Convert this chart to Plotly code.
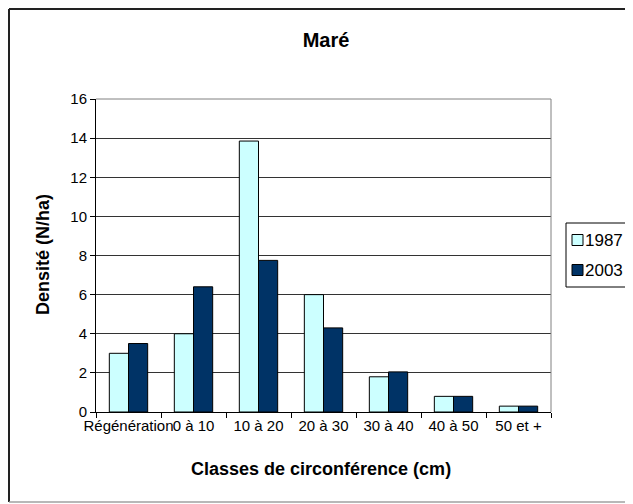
import plotly.graph_objects as go

categories = ["Régénération", "0 à 10", "10 à 20", "20 à 30", "30 à 40", "40 à 50", "50 et +"]
values_1987 = [3.0, 4.0, 13.85, 6.0, 1.8, 0.8, 0.3]
values_2003 = [3.5, 6.4, 7.75, 4.3, 2.05, 0.8, 0.3]
y_ticks = [0, 2, 4, 6, 8, 10, 12, 14, 16]
series_names = ["1987", "2003"]
series_colors = ["#CCFFFF", "#003366"]

# page body has an 8px margin: figure origin sits at screen (8, 8)
OFF = 8
W, H = 633 - OFF, 504 - OFF
# plot area in screen coordinates
SX0, SX1, SY0, SY1 = 96, 551, 99, 412
L, R, T, B = SX0 - OFF, (633 - OFF) - (SX1 - OFF), SY0 - OFF, (504 - OFF) - (SY1 - OFF)
pw, ph = SX1 - SX0, SY1 - SY0


def px_x(x):
    return (x - SX0) / pw


def px_y(y):
    return (SY1 - y) / ph


font = "Liberation Sans, Arial, sans-serif"

fig = go.Figure()
fig.add_trace(go.Bar(x=categories, y=values_1987, name=series_names[0], showlegend=False,
                     marker=dict(color=series_colors[0], line=dict(color="#000000", width=1))))
fig.add_trace(go.Bar(x=categories, y=values_2003, name=series_names[1], showlegend=False,
                     marker=dict(color=series_colors[1], line=dict(color="#000000", width=1))))

fig.update_layout(
    width=W, height=H,
    margin=dict(l=L, r=R, t=T, b=B, autoexpand=False),
    paper_bgcolor="white", plot_bgcolor="white",
    barmode="group", bargap=0.41, bargroupgap=0,
    font=dict(family=font, size=15, color="#000000"),
    title=dict(text="<b>Maré</b>", x=(326 - OFF) / W, xanchor="center",
               y=1 - (40 - OFF) / H, yanchor="middle", yref="container",
               font=dict(family=font, size=20, color="#000000")),
)
fig.update_xaxes(type="category", showline=True, linecolor="#000000", linewidth=1,
                 ticks="outside", tickson="boundaries", ticklen=5, tickcolor="#000000",
                 tickangle=0, tickfont=dict(family=font, size=15),
                 showgrid=False, zeroline=False)
fig.update_yaxes(range=[0, 16], tickvals=y_ticks, showline=True, linecolor="#000000",
                 linewidth=1, ticks="outside", ticklen=5, tickcolor="#000000",
                 showgrid=True, gridcolor="#333333", gridwidth=1, zeroline=False,
                 tickfont=dict(family=font, size=15))

shapes = [
    # plot-area frame (top/right gray)
    dict(type="line", xref="paper", yref="paper", x0=0, x1=1, y0=1, y1=1,
         line=dict(color="#808080", width=1), layer="above"),
    dict(type="line", xref="paper", yref="paper", x0=1, x1=1, y0=0, y1=1,
         line=dict(color="#808080", width=1), layer="above"),
    # outer chart border
    dict(type="line", xref="paper", yref="paper", x0=px_x(9), x1=px_x(650),
         y0=px_y(9), y1=px_y(9), line=dict(color="#222222", width=2)),
    dict(type="line", xref="paper", yref="paper", x0=px_x(9), x1=px_x(9),
         y0=px_y(9), y1=px_y(502), line=dict(color="#222222", width=2)),
    dict(type="line", xref="paper", yref="paper", x0=px_x(9), x1=px_x(650),
         y0=px_y(502), y1=px_y(502), line=dict(color="#A0A0A0", width=1.5)),
    # legend box
    dict(type="rect", xref="paper", yref="paper", x0=px_x(566), x1=px_x(632),
         y0=px_y(287), y1=px_y(223), line=dict(color="#000000", width=1),
         fillcolor="white"),
]
legend_centers = [240, 270]
for name, color, cy in zip(series_names, series_colors, legend_centers):
    shapes.append(dict(type="rect", xref="paper", yref="paper",
                       x0=px_x(572), x1=px_x(583), y0=px_y(cy + 5.5), y1=px_y(cy - 5.5),
                       line=dict(color="#000000", width=1), fillcolor=color))
    fig.add_annotation(text=name, xref="paper", yref="paper",
                       x=px_x(584), y=px_y(cy), xanchor="left", yanchor="middle",
                       showarrow=False, borderpad=0,
                       font=dict(family=font, size=17, color="#000000"))
fig.update_layout(shapes=shapes)

fig.add_annotation(text="<b>Densité (N/ha)</b>", xref="paper", yref="paper",
                   x=px_x(43), y=px_y(255), xanchor="center", yanchor="middle",
                   textangle=-90, showarrow=False,
                   font=dict(family=font, size=18, color="#000000"))
fig.add_annotation(text="<b>Classes de circonférence (cm)</b>", xref="paper", yref="paper",
                   x=px_x(321), y=px_y(469), xanchor="center", yanchor="middle",
                   showarrow=False, font=dict(family=font, size=18, color="#000000"))

fig.write_html("out.html")
